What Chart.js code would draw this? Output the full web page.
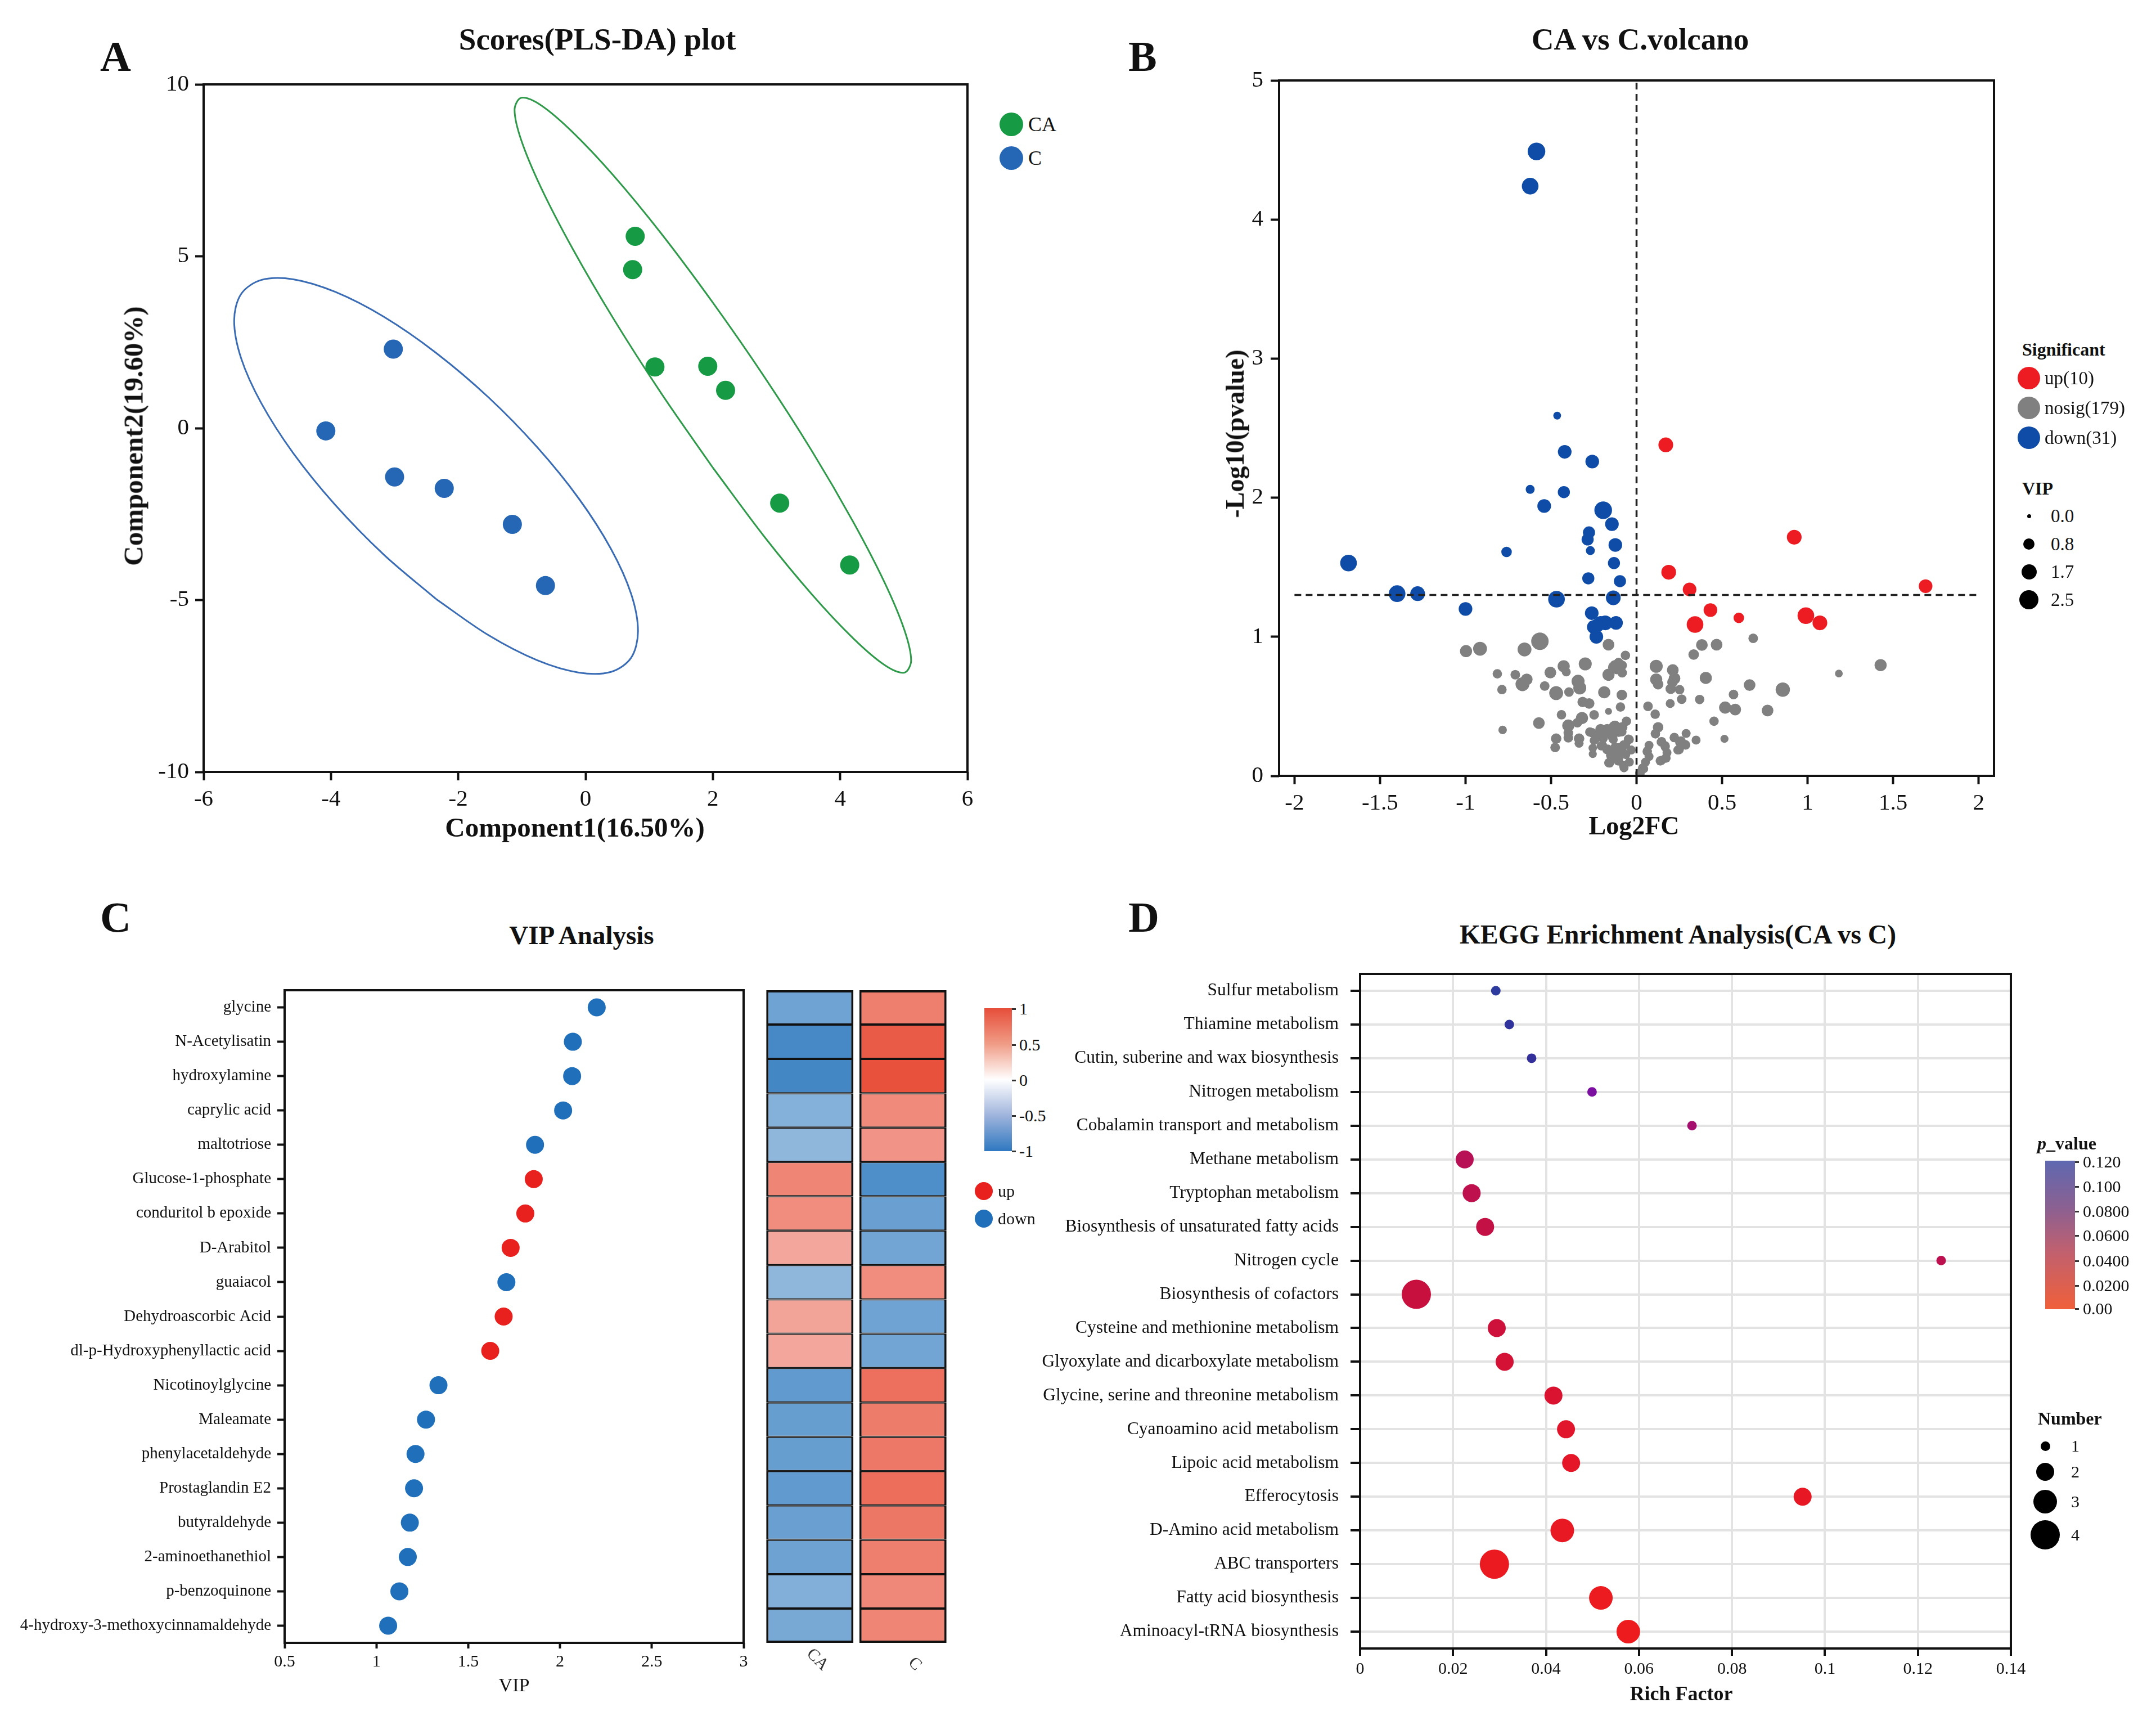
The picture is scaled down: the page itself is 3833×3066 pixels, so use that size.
<!DOCTYPE html>
<html>
<head>
<meta charset="utf-8">
<title>CA vs C metabolomics</title>
<script src="https://cdn.jsdelivr.net/npm/chart.js@4"></script>
<style>
  html, body { margin: 0; padding: 0; background: #fff; }
  #page { position: relative; width: 3833px; height: 3066px; overflow: hidden; font-family: "Liberation Serif", serif; color: #111; }
  #page canvas { position: absolute; }
  .txt { position: absolute; white-space: nowrap; line-height: 1; }
  .dot { position: absolute; border-radius: 50%; }
</style>
</head>
<body>
<div id="page"></div>
<script>
// --- A: PLS-DA scores
const caComp1 = [0.78, 0.74, 1.09, 1.92, 2.20, 3.05, 4.15];
const caComp2 = [5.58, 4.61, 1.78, 1.80, 1.10, -2.18, -3.98];
const cComp1 = [-3.02, -4.08, -3.00, -2.22, -1.15, -0.63];
const cComp2 = [2.30, -0.08, -1.42, -1.75, -2.80, -4.58];
const caEllipseX = [2.0, 1.194, 0.443, -0.203, -0.698, -1.009, -1.115, -1.009, -0.698, -0.203, 0.443, 1.194, 2.0, 2.806, 3.558, 4.203, 4.698, 5.009, 5.115, 5.009, 4.698, 4.203, 3.558, 2.806, 2.0];
const caEllipseY = [-1.15, 1.0, 3.17, 5.22, 6.99, 8.37, 9.26, 9.61, 9.39, 8.61, 7.34, 5.65, 3.65, 1.5, -0.67, -2.72, -4.49, -5.87, -6.76, -7.11, -6.89, -6.11, -4.84, -3.15, -1.15];
const cEllipseX = [-2.348, -3.169, -3.934, -4.591, -5.095, -5.412, -5.52, -5.412, -5.095, -4.591, -3.934, -3.169, -2.348, -1.527, -0.762, -0.105, 0.399, 0.716, 0.824, 0.716, 0.399, -0.105, -0.762, -1.527, -2.348];
const cEllipseY = [-4.97, -3.68, -2.23, -0.73, 0.73, 2.04, 3.125, 3.9, 4.31, 4.33, 3.965, 3.24, 2.19, 0.9, -0.55, -2.05, -3.51, -4.82, -5.905, -6.68, -7.09, -7.11, -6.75, -6.02, -4.97];
const scoreTicksX = [-6, -4, -2, 0, 2, 4, 6];
const scoreTicksY = [-10, -5, 0, 5, 10];

// --- B: volcano
const upFC = [0.171, 0.922, 0.188, 0.31, 1.69, 0.432, 0.598, 0.342, 0.99, 1.072];
const upP = [2.38, 1.716, 1.464, 1.34, 1.364, 1.192, 1.136, 1.088, 1.152, 1.10];
const upVip = [1.6, 1.6, 1.6, 1.35, 1.35, 1.35, 0.72, 2.0, 2.0, 1.6];
const downFC = [-0.585, -0.622, -0.464, -0.42, -0.259, -0.622, -0.425, -0.54, -0.195, -0.144, -0.278, -0.286, -0.124, -0.27, -0.76, -1.684, -0.132, -0.282, -0.097, -1.40, -1.28, -0.468, -0.136, -1.0, -0.262, -0.12, -0.183, -0.21, -0.23, -0.25, -0.235];
const downP = [4.49, 4.24, 2.59, 2.33, 2.26, 2.06, 2.04, 1.94, 1.91, 1.81, 1.75, 1.70, 1.66, 1.62, 1.61, 1.53, 1.53, 1.42, 1.40, 1.31, 1.31, 1.27, 1.28, 1.20, 1.17, 1.10, 1.10, 1.10, 1.08, 1.07, 1.00];
const downVip = [2.2, 2.0, 0.42, 1.35, 1.35, 0.55, 1.0, 1.35, 2.2, 1.35, 1.0, 1.0, 1.35, 0.55, 0.72, 2.0, 1.0, 1.0, 1.0, 2.0, 1.6, 2.0, 1.6, 1.35, 1.35, 1.35, 1.6, 1.35, 1.35, 1.35, 1.35];
const nosigFC = [-0.565, -0.655, -0.915, -0.997, -0.164, -0.065, 0.382, 0.468, 0.682, 0.334, -0.30, -0.426, -0.411, -0.504, -0.814, -0.709, -0.642, -0.667, -0.787, -0.537, -0.47, -0.395, -0.342, -0.332, -0.189, -0.086, -0.126, -0.084, -0.136, -0.105, -0.164, -0.084, -0.115, 0.115, 0.115, 0.126, 0.212, 0.222, 0.2, 0.252, 0.21, 0.405, 0.661, 0.567, 0.264, 0.197, 0.369, 0.518, 0.577, 0.766, 0.453, 0.067, 0.109, 0.514, 0.348, -0.315, -0.277, -0.094, -0.164, -0.248, -0.439, -0.319, -0.571, -0.783, -0.059, -0.399, -0.346, -0.126, -0.172, -0.21, -0.084, -0.105, -0.273, -0.399, -0.231, -0.168, 0.126, 0.111, -0.47, -0.399, -0.336, -0.336, -0.476, -0.248, -0.256, -0.256, -0.042, -0.063, -0.136, -0.199, -0.168, -0.126, -0.084, -0.031, -0.115, -0.063, -0.157, -0.073, -0.042, -0.105, -0.147, 0.073, 0.063, 0.073, 0.052, 0.042, 0.021, 0.147, 0.168, 0.178, 0.147, 0.22, 0.29, 0.252, 0.283, 0.241, 1.427, 1.183, 0.855, -0.206, -0.173, -0.135, -0.096, -0.129, -0.086, -0.26, -0.239, -0.195, -0.14, -0.206, -0.173, -0.14, -0.107, -0.075, -0.047, -0.162, -0.107, -0.075, -0.129, -0.096, -0.151, 0.0625, 0.035, 0.019, 0.145, 0.167, 0.172, 0.139, 0.221, 0.26, 0.287, 0.249, 0.128, 0.11];
const nosigP = [0.968, 0.909, 0.914, 0.897, 0.943, 0.866, 0.941, 0.943, 0.989, 0.872, 0.805, 0.788, 0.747, 0.743, 0.734, 0.727, 0.693, 0.659, 0.62, 0.646, 0.595, 0.603, 0.68, 0.632, 0.601, 0.582, 0.795, 0.795, 0.781, 0.815, 0.727, 0.741, 0.768, 0.788, 0.693, 0.659, 0.761, 0.70, 0.626, 0.619, 0.673, 0.704, 0.653, 0.585, 0.551, 0.52, 0.549, 0.491, 0.477, 0.47, 0.393, 0.50, 0.443, 0.266, 0.257, 0.531, 0.52, 0.495, 0.464, 0.439, 0.439, 0.416, 0.38, 0.33, 0.393, 0.362, 0.382, 0.355, 0.335, 0.335, 0.349, 0.315, 0.315, 0.308, 0.295, 0.308, 0.349, 0.301, 0.268, 0.274, 0.268, 0.234, 0.204, 0.254, 0.2, 0.157, 0.261, 0.227, 0.261, 0.22, 0.193, 0.207, 0.186, 0.186, 0.159, 0.153, 0.092, 0.058, 0.099, 0.119, 0.139, 0.22, 0.18, 0.139, 0.099, 0.051, 0.018, 0.247, 0.207, 0.166, 0.112, 0.274, 0.305, 0.241, 0.227, 0.186, 0.796, 0.736, 0.62, 0.324, 0.33, 0.357, 0.344, 0.31, 0.317, 0.31, 0.27, 0.27, 0.276, 0.216, 0.189, 0.175, 0.202, 0.222, 0.263, 0.094, 0.108, 0.074, 0.135, 0.148, 0.148, 0.175, 0.054, 0.02, 0.243, 0.216, 0.128, 0.108, 0.276, 0.25, 0.222, 0.189, 0.35, 0.303];
const nosigVip = [2.15, 1.4, 1.4, 1.0, 0.9, 0.6, 0.9, 0.9, 0.62, 0.72, 1.2, 1.0, 0.55, 0.9, 0.6, 0.62, 0.9, 1.4, 0.6, 0.62, 1.4, 0.62, 1.2, 1.2, 1.0, 0.72, 0.72, 0.62, 0.72, 0.62, 1.0, 0.62, 0.72, 1.2, 1.0, 0.72, 0.9, 0.9, 0.72, 0.6, 0.72, 1.0, 0.9, 0.62, 0.62, 0.55, 0.6, 1.0, 0.9, 0.9, 0.6, 0.62, 0.6, 0.45, 0.55, 0.72, 0.72, 0.6, 0.33, 0.62, 0.6, 1.0, 0.9, 0.5, 0.6, 1.0, 0.62, 0.9, 0.72, 0.72, 0.72, 0.62, 0.6, 0.62, 0.6, 0.62, 0.72, 0.55, 0.72, 0.62, 0.72, 0.55, 0.62, 0.55, 0.5, 0.45, 0.55, 0.55, 0.55, 0.55, 0.55, 0.55, 0.55, 0.55, 0.55, 0.55, 0.55, 0.55, 0.55, 0.55, 0.55, 0.55, 0.55, 0.55, 0.55, 0.55, 0.55, 0.55, 0.55, 0.55, 0.55, 0.55, 0.55, 0.55, 0.55, 0.55, 1.0, 0.42, 1.5, 0.6, 0.6, 0.6, 0.6, 0.6, 0.6, 0.6, 0.6, 0.6, 0.6, 0.6, 0.6, 0.6, 0.6, 0.6, 0.6, 0.6, 0.6, 0.6, 0.6, 0.6, 0.6, 0.6, 0.6, 0.6, 0.6, 0.6, 0.6, 0.6, 0.6, 0.6, 0.6, 0.6, 0.6, 0.6];
const volcanoTicksX = [-2, -1.5, -1, -0.5, 0, 0.5, 1, 1.5, 2];
const volcanoTicksY = [0, 1, 2, 3, 4, 5];
const pThreshold = 1.301;
const vipLegend = [0.0, 0.8, 1.7, 2.5];

// --- C: VIP + heatmap
const metabolites = ['glycine', 'N-Acetylisatin', 'hydroxylamine', 'caprylic acid', 'maltotriose', 'Glucose-1-phosphate', 'conduritol b epoxide', 'D-Arabitol', 'guaiacol', 'Dehydroascorbic Acid', 'dl-p-Hydroxyphenyllactic acid', 'Nicotinoylglycine', 'Maleamate', 'phenylacetaldehyde', 'Prostaglandin E2', 'butyraldehyde', '2-aminoethanethiol', 'p-benzoquinone', '4-hydroxy-3-methoxycinnamaldehyde'];
const vipScores = [2.20, 2.07, 2.066, 2.017, 1.864, 1.857, 1.811, 1.731, 1.708, 1.693, 1.62, 1.338, 1.27, 1.213, 1.205, 1.182, 1.171, 1.125, 1.064];
const vipTrend = ['down', 'down', 'down', 'down', 'down', 'up', 'up', 'up', 'down', 'up', 'up', 'down', 'down', 'down', 'down', 'down', 'down', 'down', 'down'];
const heatCA = [-0.69, -0.89, -0.9, -0.59, -0.54, 0.7, 0.65, 0.51, -0.54, 0.52, 0.51, -0.76, -0.73, -0.73, -0.76, -0.72, -0.7, -0.6, -0.65];
const heatC = [0.73, 0.94, 0.99, 0.67, 0.61, -0.85, -0.72, -0.68, 0.65, -0.69, -0.68, 0.82, 0.75, 0.77, 0.83, 0.78, 0.74, 0.68, 0.7];
const heatGroups = ['CA', 'C'];
const vipTicksX = [0.5, 1, 1.5, 2, 2.5, 3];
const heatBarTicks = ['1', '0.5', '0', '-0.5', '-1'];

// --- D: KEGG enrichment
const pathways = ['Sulfur metabolism', 'Thiamine metabolism', 'Cutin, suberine and wax biosynthesis', 'Nitrogen metabolism', 'Cobalamin transport and metabolism', 'Methane metabolism', 'Tryptophan metabolism', 'Biosynthesis of unsaturated fatty acids', 'Nitrogen cycle', 'Biosynthesis of cofactors', 'Cysteine and methionine metabolism', 'Glyoxylate and dicarboxylate metabolism', 'Glycine, serine and threonine metabolism', 'Cyanoamino acid metabolism', 'Lipoic acid metabolism', 'Efferocytosis', 'D-Amino acid metabolism', 'ABC transporters', 'Fatty acid biosynthesis', 'Aminoacyl-tRNA biosynthesis'];
const richFactor = [0.0292, 0.0321, 0.0369, 0.0499, 0.0714, 0.0225, 0.0240, 0.0269, 0.125, 0.0121, 0.0294, 0.0311, 0.0416, 0.0443, 0.0454, 0.0952, 0.0435, 0.0289, 0.0518, 0.0577];
const pathwayP = [0.115, 0.105, 0.1, 0.085, 0.07, 0.062, 0.058, 0.054, 0.06, 0.05, 0.045, 0.04, 0.035, 0.028, 0.022, 0.015, 0.012, 0.008, 0.005, 0.003];
const pathwayCount = [1, 1, 1, 1, 1, 2, 2, 2, 1, 4, 2, 2, 2, 2, 2, 2, 3, 4, 3, 3];
const richTicksX = [0, 0.02, 0.04, 0.06, 0.08, 0.1, 0.12, 0.14];
const pBarTicks = ['0.120', '0.100', '0.0800', '0.0600', '0.0400', '0.0200', '0.00'];
const countLegend = [1, 2, 3, 4];

const SERIF = '"Liberation Serif", serif';
const page = document.getElementById('page');
const zip = (xs, ys) => xs.map((x, i) => ({ x, y: ys[i] }));

function addText(html, x, y, size, opts) {
  opts = opts || {};
  const d = document.createElement('div');
  d.className = 'txt';
  d.innerHTML = html;
  const tx = opts.center ? '-50%' : '0';
  const rot = opts.vertical ? ' rotate(-90deg)' : '';
  d.style.cssText = `left:${x}px;top:${y}px;font-size:${size}px;font-weight:${opts.bold ? 'bold' : 'normal'};transform:translate(${tx},-50%)${rot}`;
  page.appendChild(d);
}
function addDot(x, y, r, color) {
  const d = document.createElement('div');
  d.className = 'dot';
  d.style.cssText = `left:${x - r}px;top:${y - r}px;width:${2 * r}px;height:${2 * r}px;background:${color}`;
  page.appendChild(d);
}
function addBar(x, y, w, h, gradient, tickYs, labels, size, labelX) {
  const d = document.createElement('div');
  d.style.cssText = `position:absolute;left:${x}px;top:${y}px;width:${w}px;height:${h}px;background:${gradient}`;
  page.appendChild(d);
  tickYs.forEach((ty, i) => {
    const t = document.createElement('div');
    t.style.cssText = `position:absolute;left:${x + w}px;top:${ty - 1}px;width:7px;height:3px;background:#333`;
    page.appendChild(t);
    addText(labels[i], labelX, ty, size);
  });
}

// frame round the plot area, axes keep only their ticks
const framePlugin = {
  id: 'frame',
  afterDatasetsDraw(chart) {
    const { ctx, chartArea: a } = chart;
    ctx.save();
    ctx.strokeStyle = '#111';
    ctx.lineWidth = 4;
    ctx.strokeRect(a.left, a.top, a.right - a.left, a.bottom - a.top);
    ctx.restore();
  }
};

// places a chart so the plot area lands on the given pixel box
function makeChart(box, marginLeft, marginBottom, config) {
  const padTop = 40, padRight = 50;
  const c = document.createElement('canvas');
  const w = marginLeft + (box.right - box.left) + padRight;
  const h = padTop + (box.bottom - box.top) + marginBottom;
  c.width = w;
  c.height = h;
  c.style.left = (box.left - marginLeft) + 'px';
  c.style.top = (box.top - padTop) + 'px';
  c.style.width = w + 'px';
  c.style.height = h + 'px';
  page.appendChild(c);
  config.options = Object.assign({
    responsive: false,
    animation: false,
    devicePixelRatio: 1,
    events: [],
    layout: { padding: { top: padTop, right: padRight, left: 0, bottom: 0 } },
    plugins: { legend: { display: false }, tooltip: { enabled: false }, title: { display: false } }
  }, config.options);
  const xs = config.options.scales.x, ys = config.options.scales.y;
  xs.afterFit = s => { s.height = marginBottom; };
  ys.afterFit = s => { s.width = marginLeft; };
  config.plugins = (config.plugins || []).concat(config.noFrame ? [] : [framePlugin]);
  return new Chart(c, config);
}

function axis(values, fontSize, tickLen, pad, extra) {
  return Object.assign({
    type: 'linear',
    min: values[0],
    max: values[values.length - 1],
    afterBuildTicks: s => { s.ticks = values.map(v => ({ value: v })); },
    border: { display: false },
    grid: { drawOnChartArea: false, tickColor: '#111', tickWidth: 4, tickLength: tickLen },
    ticks: { color: '#111', autoSkip: false, maxRotation: 0, padding: pad, font: { family: SERIF, size: fontSize }, callback: v => String(v) }
  }, extra || {});
}

// --- panel A
const GREEN = '#169a44', BLUE_A = '#2566b5';
const ellipse = (xs, ys, color) => ({ type: 'scatter', data: zip(xs, ys), showLine: true, tension: 0.33, pointRadius: 0, borderColor: color, borderWidth: 3, fill: false });
const dots = (xs, ys, color, r) => ({ type: 'scatter', data: zip(xs, ys), showLine: false, pointRadius: r, pointBackgroundColor: color, pointBorderWidth: 0 });
makeChart({ left: 362, right: 1720, top: 150, bottom: 1372 }, 160, 127, {
  type: 'scatter',
  data: { datasets: [
    dots(caComp1, caComp2, GREEN, 17), dots(cComp1, cComp2, BLUE_A, 17),
    ellipse(caEllipseX, caEllipseY, '#2f9a4a'), ellipse(cEllipseX, cEllipseY, '#3a6cb5')
  ] },
  options: { scales: {
    x: axis(scoreTicksX, 41, 15, 10),
    y: axis(scoreTicksY, 41, 15, 11)
  } }
});
addText('A', 178, 100, 76, { bold: true });
addText('Scores(PLS-DA) plot', 1062, 69, 55, { center: true, bold: true });
addText('Component1(16.50%)', 1022, 1470, 49, { center: true, bold: true });
addText('Component2(19.60%)', 237, 775, 49, { center: true, bold: true, vertical: true });
addDot(1798, 221, 21, GREEN);
addDot(1798, 281, 21, BLUE_A);
addText('CA', 1828, 221, 36);
addText('C', 1828, 281, 36);

// --- panel B
// radius for a VIP value, read from the size legend
const vipStops = [[0, 3.5], [0.8, 10], [1.7, 13.5], [2.5, 17]];
function vipRadius(v) {
  for (let i = 1; i < vipStops.length; i++) {
    if (v <= vipStops[i][0]) {
      const [a, ra] = vipStops[i - 1], [b, rb] = vipStops[i];
      return ra + (rb - ra) * (v - a) / (b - a);
    }
  }
  return vipStops[vipStops.length - 1][1];
}
const volcano = (xs, ys, vips, color, order) => ({ type: 'bubble', order, backgroundColor: color, borderWidth: 0, data: xs.map((x, i) => ({ x, y: ys[i], r: vipRadius(vips[i]) })) });
const dashed = pts => ({ type: 'scatter', order: 0, data: pts, showLine: true, pointRadius: 0, borderColor: '#222', borderWidth: 3.5, borderDash: [12, 8], fill: false });
makeChart({ left: 2274, right: 3545, top: 143, bottom: 1379 }, 107, 118, {
  type: 'bubble',
  data: { datasets: [
    dashed(zip(volcanoTicksX.slice(0, 1).concat(volcanoTicksX.slice(-1)), [pThreshold, pThreshold])),
    dashed(zip([0, 0], [0, 5])),
    volcano(upFC, upP, upVip, '#ec1c22', 1),
    volcano(downFC, downP, downVip, '#0f4ca8', 2),
    volcano(nosigFC, nosigP, nosigVip, '#808080', 3)
  ] },
  options: { scales: {
    x: axis(volcanoTicksX, 41, 15, 10, { min: -2.09, max: 2.09 }),
    y: axis(volcanoTicksY, 41, 15, 13)
  } }
});
addText('B', 2006, 100, 76, { bold: true });
addText('CA vs C.volcano', 2916, 69, 55, { center: true, bold: true });
addText('Log2FC', 2905, 1468, 46, { center: true, bold: true });
addText('-Log10(pvalue)', 2196, 771, 46, { center: true, bold: true, vertical: true });
addText('Significant', 3595, 621, 32, { bold: true });
[['up(10)', '#ec1c22', 672], ['nosig(179)', '#808080', 725], ['down(31)', '#0f4ca8', 778]].forEach(s => {
  addDot(3607, s[2], 20, s[1]);
  addText(s[0], 3635, s[2], 33);
});
addText('VIP', 3595, 868, 32, { bold: true });
vipLegend.forEach((v, i) => {
  const y = [917, 967, 1016, 1066][i];
  addDot(3607, y, vipRadius(v), '#000');
  addText(v.toFixed(1), 3646, y, 33);
});

// --- panel C
const UP = '#e8211f', DOWN = '#1f6fba';
makeChart({ left: 506, right: 1322, top: 1760, bottom: 2920 }, 506, 100, {
  type: 'bubble',
  data: { datasets: [{
    data: vipScores.map((v, i) => ({ x: v, y: metabolites[i], r: 16 })),
    backgroundColor: vipTrend.map(t => t === 'up' ? UP : DOWN),
    borderWidth: 0
  }] },
  options: { scales: {
    x: axis(vipTicksX, 30, 10, 6),
    y: {
      type: 'category', labels: metabolites, offset: true,
      border: { display: false },
      grid: { drawOnChartArea: false, tickColor: '#111', tickWidth: 4, tickLength: 13 },
      ticks: { color: '#111', autoSkip: false, padding: 11, font: { family: SERIF, size: 29 } }
    }
  } }
});

// heatmap colour: white at 0, towards red or blue at the ends of the -1..1 scale
function heatColor(v) {
  const end = v >= 0 ? [232, 80, 58] : [47, 122, 191];
  const t = Math.min(1, Math.abs(v));
  return 'rgb(' + end.map(c => Math.round(255 + (c - 255) * t)).join(',') + ')';
}
makeChart({ left: 1357, right: 1688, top: 1760, bottom: 2920 }, 10, 90, {
  type: 'bar',
  noFrame: true,
  data: {
    labels: heatGroups,
    datasets: metabolites.map((name, i) => ({
      label: name,
      data: [1, 1],
      backgroundColor: [heatColor(heatCA[i]), heatColor(heatC[i])],
      borderColor: '#111',
      borderSkipped: false,
      borderWidth: { left: 4, right: 4, top: i === 0 ? 4 : 2, bottom: i === metabolites.length - 1 ? 4 : 2 },
      barPercentage: 1,
      categoryPercentage: 0.9366
    }))
  },
  options: { scales: {
    x: {
      stacked: true,
      border: { display: false },
      grid: { display: false },
      ticks: { color: '#333', padding: 24, labelOffset: 28, minRotation: -45, maxRotation: -45, font: { family: SERIF, size: 30 } }
    },
    y: { stacked: true, display: false, reverse: true, min: 0, max: metabolites.length }
  } }
});
addText('C', 178, 1630, 76, { bold: true });
addText('VIP Analysis', 1034, 1662, 47, { center: true, bold: true });
addText('VIP', 914, 2995, 34, { center: true });
addBar(1750, 1792, 49, 254, 'linear-gradient(to bottom,#e64e3a 0%,#f09c86 25%,#fff 50%,#9fb4dc 75%,#2f78c0 100%)', [1793, 1857, 1920, 1983, 2046], heatBarTicks, 30, 1812);
addDot(1749, 2117, 16, UP);
addDot(1749, 2166, 16, DOWN);
addText('up', 1774, 2117, 30);
addText('down', 1774, 2166, 30);

// --- panel D
// colour of the p value, stops sampled from the dots
const pStops = [[0, [238, 28, 28]], [0.03, [224, 20, 44]], [0.05, [200, 16, 63]], [0.06, [188, 16, 79]], [0.07, [165, 16, 110]], [0.085, [123, 15, 160]], [0.1, [51, 48, 156]], [0.12, [43, 62, 160]]];
function pColor(p) {
  for (let i = 1; i < pStops.length; i++) {
    if (p <= pStops[i][0]) {
      const [a, ca] = pStops[i - 1], [b, cb] = pStops[i];
      const t = (p - a) / (b - a);
      return 'rgb(' + ca.map((c, k) => Math.round(c + (cb[k] - c) * t)).join(',') + ')';
    }
  }
  return 'rgb(43,62,160)';
}
const countRadius = { 1: 8.5, 2: 16, 3: 21, 4: 26 };
makeChart({ left: 2418, right: 3575, top: 1731, bottom: 2930 }, 600, 102, {
  type: 'bubble',
  data: { datasets: [{
    data: richFactor.map((v, i) => ({ x: v, y: pathways[i], r: countRadius[pathwayCount[i]] })),
    backgroundColor: pathwayP.map(pColor),
    borderWidth: 0
  }] },
  options: { scales: {
    x: axis(richTicksX, 30, 13, 6, {
      grid: { drawOnChartArea: true, color: '#e3e3e3', lineWidth: 4, tickColor: '#111', tickWidth: 4, tickLength: 13 }
    }),
    y: {
      type: 'category', labels: pathways, offset: true,
      border: { display: false },
      grid: { color: '#e3e3e3', lineWidth: 4, tickColor: '#111', tickWidth: 4, tickLength: 17 },
      ticks: { color: '#111', autoSkip: false, padding: 21, font: { family: SERIF, size: 31.5 } }
    }
  } }
});
addText('D', 2006, 1630, 76, { bold: true });
addText('KEGG Enrichment Analysis(CA vs C)', 2983, 1662, 47.5, { center: true, bold: true });
addText('Rich Factor', 2989, 3010, 36, { center: true, bold: true });
addText('<i>p</i>_value', 3622, 2032, 32, { bold: true });
addBar(3636, 2063, 53, 264, 'linear-gradient(to bottom,#5f68b0 0%,#8d6090 33%,#bf6070 60%,#f0603a 100%)', [2065, 2109, 2153, 2196, 2241, 2285, 2326], pBarTicks, 30, 3703);
addText('Number', 3623, 2521, 32, { bold: true });
countLegend.forEach((n, i) => {
  const y = [2570, 2616, 2669, 2728][i];
  addDot(3636, y, countRadius[n], '#000');
  addText(String(n), 3682, y, 30);
});
</script>
</body>
</html>
